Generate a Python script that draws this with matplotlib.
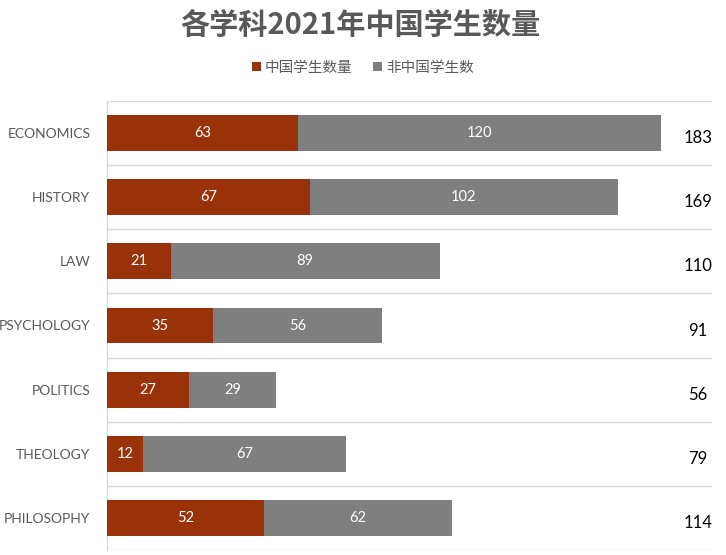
import matplotlib
matplotlib.use("Agg")
import matplotlib.pyplot as plt
import numpy as np

categories = ["ECONOMICS", "HISTORY", "LAW", "PSYCHOLOGY", "POLITICS", "THEOLOGY", "PHILOSOPHY"]
chinese = [63, 67, 21, 35, 27, 12, 52]
non_chinese = [120, 102, 89, 56, 29, 67, 62]
series_names = ["中国学生数量", "非中国学生数"]
title = "各学科2021年中国学生数量"

CJK = ["Noto Sans CJK SC", "DejaVu Sans"]
RED = "#9A3209"
GRAY = "#7F7F7F"
TXT = "#595959"
GRID = "#D9D9D9"

fig = plt.figure(figsize=(7.26, 5.55), dpi=100)
ax = fig.add_axes([107/726, 5/555, (712-107)/726, (550-101)/555])

y = np.arange(len(categories))
totals = [a + b for a, b in zip(chinese, non_chinese)]
h = 0.56
b1 = ax.barh(y, chinese, height=h, color=RED, label=series_names[0], zorder=3)
b2 = ax.barh(y, non_chinese, left=chinese, height=h, color=GRAY, label=series_names[1], zorder=3)

for rect, v in zip(b1, chinese):
    ax.text(rect.get_x() + rect.get_width()/2, rect.get_y() + rect.get_height()/2, str(v),
            ha="center", va="center", color="white", fontsize=10.5, family="Lato", zorder=4)
for rect, v in zip(b2, non_chinese):
    ax.text(rect.get_x() + rect.get_width()/2, rect.get_y() + rect.get_height()/2, str(v),
            ha="center", va="center", color="white", fontsize=10.5, family="Lato", zorder=4)

for yi, t in zip(y, totals):
    ax.text(0.977, yi + 0.08, str(t), transform=ax.get_yaxis_transform(),
            ha="center", va="center", color="black", fontsize=12, family="Lato")

ax.set_xlim(0, 200)
ax.set_ylim(len(categories) - 0.5, -0.5)
ax.set_yticks(y)
ax.set_yticklabels(categories, color=TXT, fontsize=10, family="Lato")
ax.set_yticks(np.arange(len(categories) + 1) - 0.5, minor=True)
ax.tick_params(axis="y", which="both", length=0, pad=12)
ax.set_xticks([])
ax.grid(axis="y", which="minor", color=GRID, linewidth=1, zorder=0)
ax.grid(axis="y", which="major", visible=False)
for s in ["top", "right", "bottom"]:
    ax.spines[s].set_visible(False)
ax.spines["left"].set_color(GRID)
ax.spines["left"].set_linewidth(1)

fig.text(0.497, 1 - 25/555, title, ha="center", va="center", fontsize=21,
         fontweight="bold", color=TXT, family=CJK)

leg = fig.legend(handles=[b1, b2], labels=series_names, loc="center",
                 bbox_to_anchor=(0.5, 1 - 68/555), ncol=2, frameon=False,
                 prop={"family": CJK, "size": 10.5}, handlelength=0.6, handleheight=0.6,
                 handletextpad=0.3, columnspacing=1.4)
for t in leg.get_texts():
    t.set_color(TXT)

fig.savefig("out.png", dpi=100)
